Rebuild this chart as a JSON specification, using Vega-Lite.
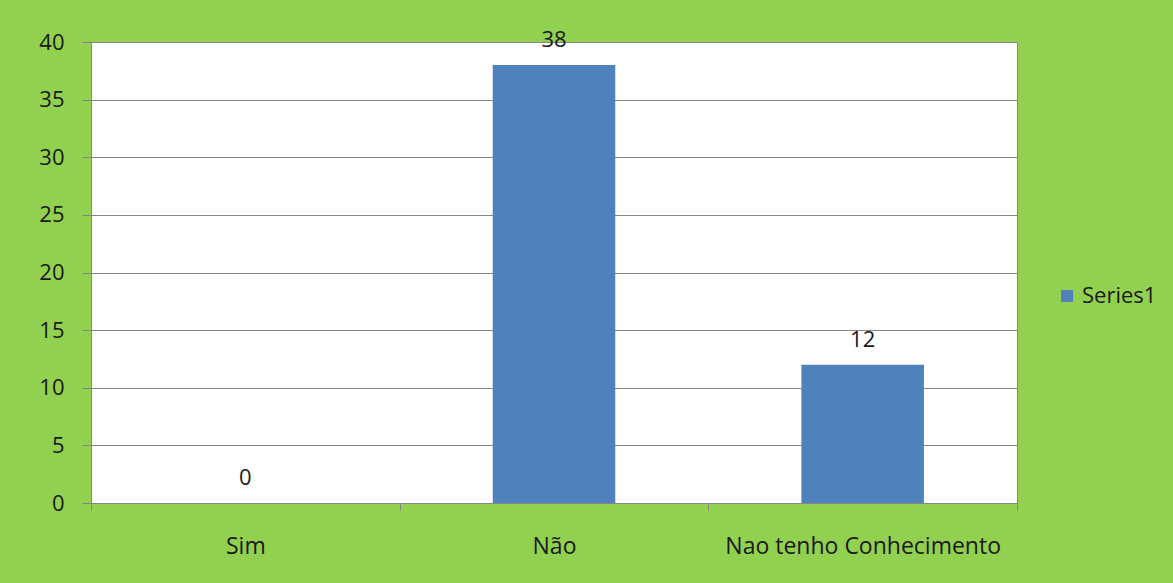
{
  "$schema": "https://vega.github.io/schema/vega-lite/v6.json",
  "width": 926,
  "height": 461,
  "autosize": {"type": "none"},
  "padding": {"left": 91, "top": 42, "right": 156, "bottom": 80},
  "background": "#92D050",
  "config": {
    "view": {"fill": "white", "stroke": "#868686", "strokeWidth": 1},
    "font": "Open Sans"
  },
  "data": {
    "values": [
      {"category": "Sim", "value": 0, "series": "Series1"},
      {"category": "Não", "value": 38, "series": "Series1"},
      {"category": "Nao tenho Conhecimento", "value": 12, "series": "Series1"}
    ]
  },
  "encoding": {
    "x": {
      "field": "category",
      "type": "nominal",
      "sort": null,
      "scale": {"paddingInner": 0, "paddingOuter": 0},
      "axis": {
        "title": null,
        "labelAngle": 0,
        "labelLimit": 0,
        "tickBand": "extent",
        "tickSize": 7,
        "tickColor": "#868686",
        "domainColor": "#868686",
        "labelFontSize": 23,
        "labelColor": "#1a1a1a",
        "labelPadding": 25,
        "labelFont": "Open Sans"
      }
    },
    "y": {
      "field": "value",
      "type": "quantitative",
      "scale": {"domain": [0, 40], "nice": false},
      "axis": {
        "title": null,
        "values": [0, 5, 10, 15, 20, 25, 30, 35, 40],
        "tickSize": 9,
        "tickColor": "#868686",
        "domainColor": "#868686",
        "gridColor": "#868686",
        "labelFontSize": 22,
        "labelColor": "#1a1a1a",
        "labelPadding": 18,
        "labelFont": "Open Sans"
      }
    }
  },
  "layer": [
    {
      "mark": {"type": "bar", "width": {"band": 0.397}},
      "encoding": {
        "color": {
          "field": "series",
          "type": "nominal",
          "scale": {"range": ["#4F81BD"]},
          "legend": {
            "title": null,
            "orient": "none",
            "legendX": 965,
            "legendY": 243,
            "symbolType": "square",
            "symbolSize": 144,
            "symbolStrokeWidth": 0,
            "labelFontSize": 22,
            "labelColor": "#1a1a1a",
            "labelFont": "Open Sans",
            "labelOffset": 4
          }
        }
      }
    },
    {
      "mark": {"type": "text", "dy": -25, "fontSize": 22, "color": "#1a1a1a", "font": "Open Sans"},
      "encoding": {"text": {"field": "value", "type": "quantitative"}}
    }
  ]
}
